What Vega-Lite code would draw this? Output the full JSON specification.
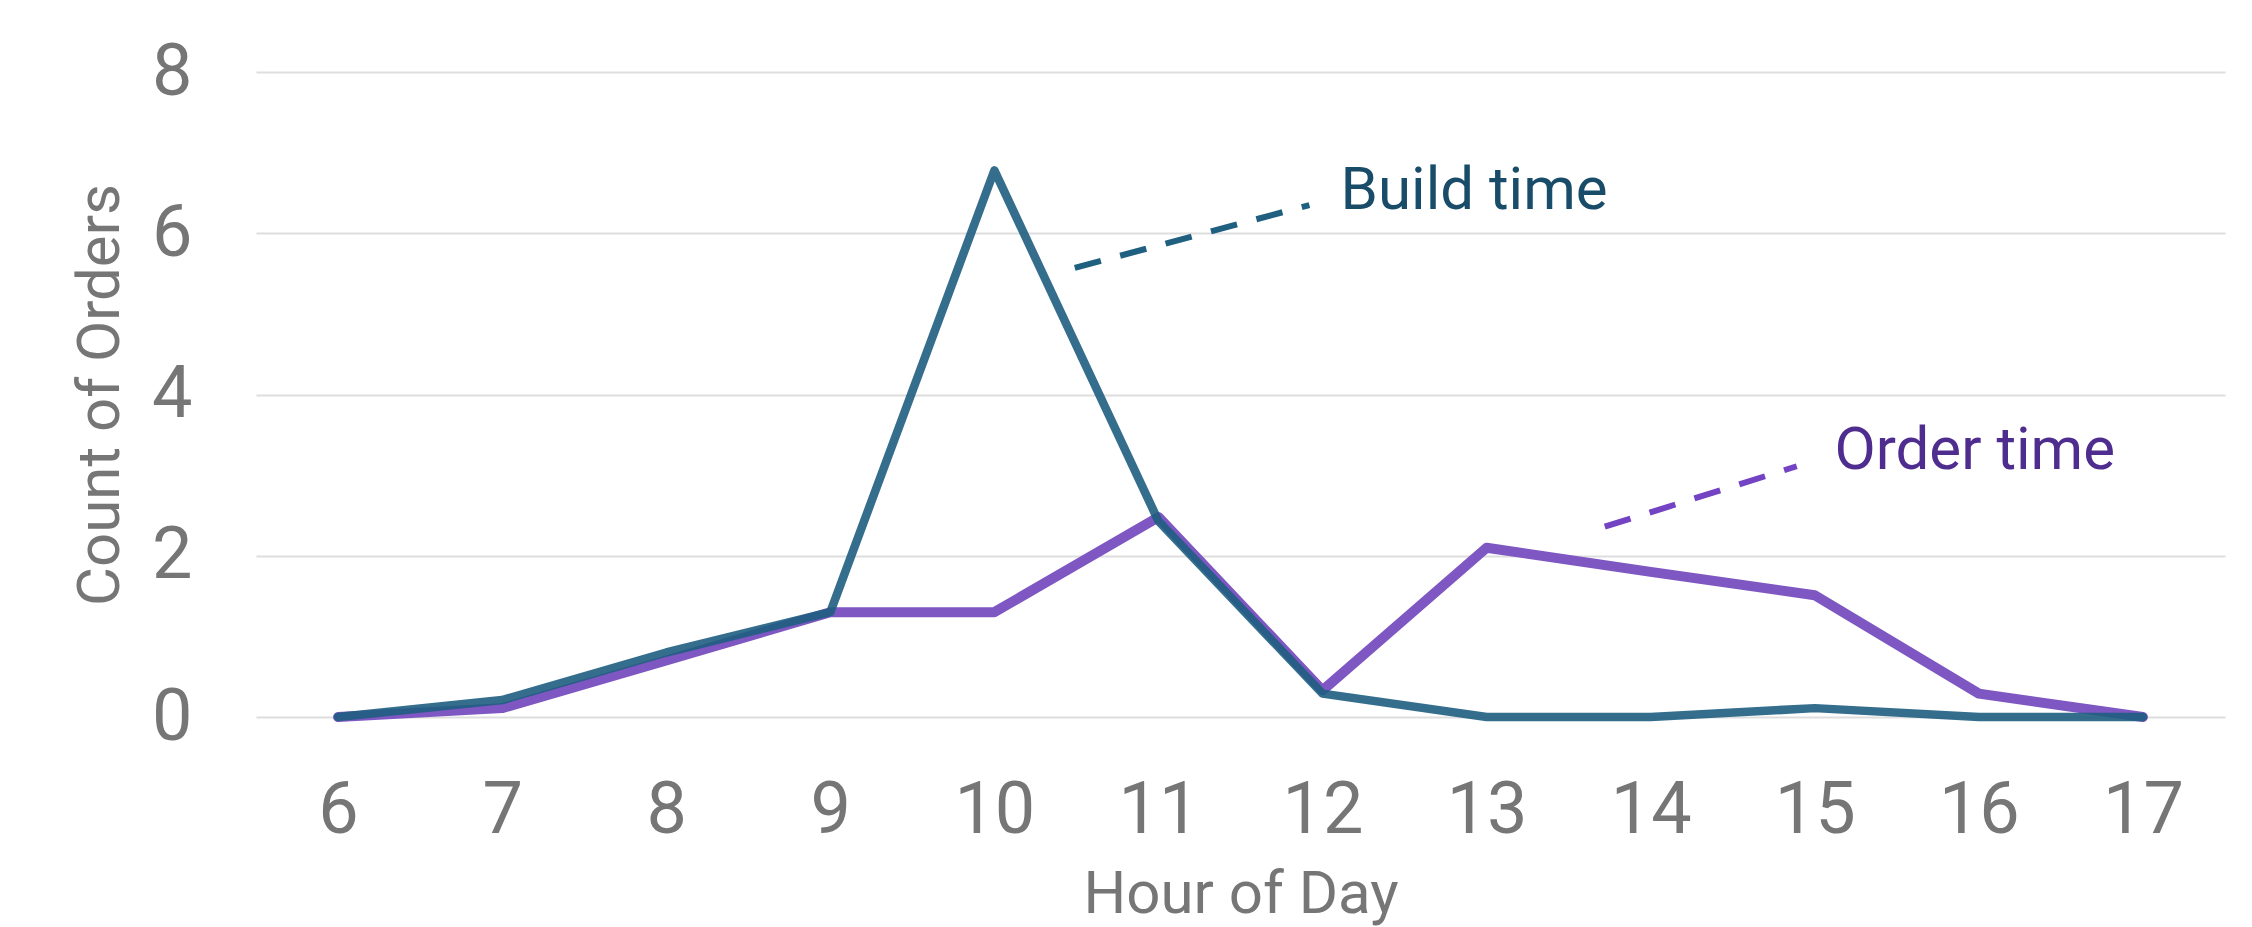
{
  "$schema": "https://vega.github.io/schema/vega-lite/v6.json",
  "width": 1969,
  "height": 645,
  "autosize": {"type": "none"},
  "padding": {"left": 256, "top": 72, "right": 27, "bottom": 210},
  "background": "#ffffff",
  "config": {
    "view": {"stroke": null},
    "font": "Roboto",
    "axis": {"labelFont": "Roboto", "titleFont": "Roboto", "labelColor": "#767676", "titleColor": "#767676", "titleFontWeight": "normal"}
  },
  "datasets": {
    "series": [
      {"hour": 6, "series": "Order time", "count": 0},
      {"hour": 7, "series": "Order time", "count": 0.11},
      {"hour": 8, "series": "Order time", "count": 0.7},
      {"hour": 9, "series": "Order time", "count": 1.3},
      {"hour": 10, "series": "Order time", "count": 1.3},
      {"hour": 11, "series": "Order time", "count": 2.48},
      {"hour": 12, "series": "Order time", "count": 0.33},
      {"hour": 13, "series": "Order time", "count": 2.1},
      {"hour": 14, "series": "Order time", "count": 1.8},
      {"hour": 15, "series": "Order time", "count": 1.51},
      {"hour": 16, "series": "Order time", "count": 0.29},
      {"hour": 17, "series": "Order time", "count": 0},
      {"hour": 6, "series": "Build time", "count": 0},
      {"hour": 7, "series": "Build time", "count": 0.21},
      {"hour": 8, "series": "Build time", "count": 0.8},
      {"hour": 9, "series": "Build time", "count": 1.3},
      {"hour": 10, "series": "Build time", "count": 6.78},
      {"hour": 11, "series": "Build time", "count": 2.43},
      {"hour": 12, "series": "Build time", "count": 0.29},
      {"hour": 13, "series": "Build time", "count": 0},
      {"hour": 14, "series": "Build time", "count": 0},
      {"hour": 15, "series": "Build time", "count": 0.11},
      {"hour": 16, "series": "Build time", "count": 0},
      {"hour": 17, "series": "Build time", "count": 0}
    ],
    "leaders": [
      {"series": "Build time", "hour": 10.49, "count": 5.57, "hour2": 11.92, "count2": 6.35},
      {"series": "Order time", "hour": 13.72, "count": 2.36, "hour2": 14.89, "count2": 3.11}
    ],
    "labels": [
      {"series": "Build time", "hour": 12.11, "count": 6.3},
      {"series": "Order time", "hour": 15.12, "count": 3.07}
    ]
  },
  "layer": [
    {
      "data": {"name": "series"},
      "transform": [{"filter": "datum.series === 'Order time'"}],
      "mark": {"type": "line", "color": "#7E57C2", "strokeWidth": 10, "strokeCap": "round", "strokeJoin": "round"},
      "encoding": {
        "x": {"field": "hour", "type": "quantitative", "scale": {"domain": [5.5, 17.5], "nice": false, "zero": false},
          "axis": {"title": "Hour of Day", "format": "d", "values": [6,7,8,9,10,11,12,13,14,15,16,17], "grid": false, "domain": false, "ticks": false, "labelFontSize": 72, "labelPadding": 58, "titleFontSize": 60, "titlePadding": 19, "labelFlush": false}},
        "y": {"field": "count", "type": "quantitative", "scale": {"domain": [0, 8], "nice": false},
          "axis": {"title": "Count of Orders", "format": "d", "values": [0,2,4,6,8], "grid": true, "gridColor": "#DEDEDE", "gridWidth": 2, "domain": false, "ticks": false, "labelFontSize": 72, "labelPadding": 64, "titleFontSize": 60, "titlePadding": 20}}
      }
    },
    {
      "data": {"name": "series"},
      "transform": [{"filter": "datum.series === 'Build time'"}],
      "mark": {"type": "line", "color": "#1E5E80", "opacity": 0.9, "strokeWidth": 8.5, "strokeCap": "round", "strokeJoin": "round"},
      "encoding": {
        "x": {"field": "hour", "type": "quantitative"},
        "y": {"field": "count", "type": "quantitative"}
      }
    },
    {
      "data": {"name": "leaders"},
      "mark": {"type": "rule", "strokeWidth": 6, "strokeDash": [27, 20], "strokeCap": "butt"},
      "encoding": {
        "x": {"field": "hour", "type": "quantitative"},
        "y": {"field": "count", "type": "quantitative"},
        "x2": {"field": "hour2"},
        "y2": {"field": "count2"},
        "color": {"condition": {"test": "datum.series === 'Build time'", "value": "#1F5F80"}, "value": "#7443C4"}
      }
    },
    {
      "data": {"name": "labels"},
      "mark": {"type": "text", "align": "left", "baseline": "alphabetic", "fontSize": 60, "font": "Roboto"},
      "encoding": {
        "x": {"field": "hour", "type": "quantitative"},
        "y": {"field": "count", "type": "quantitative"},
        "text": {"field": "series", "type": "nominal"},
        "color": {"condition": {"test": "datum.series === 'Build time'", "value": "#194C68"}, "value": "#4F2D8F"}
      }
    }
  ]
}
